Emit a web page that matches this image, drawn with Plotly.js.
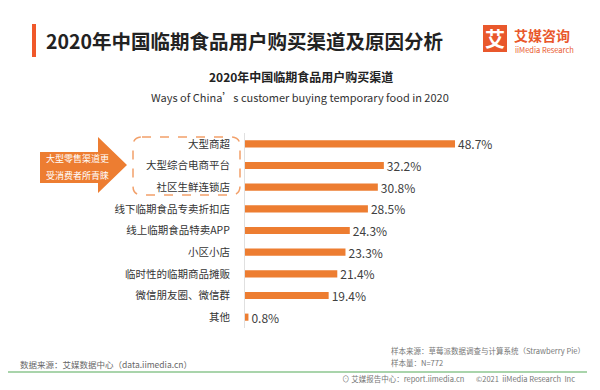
<!DOCTYPE html>
<html>
<head>
<meta charset="utf-8">
<script src="https://cdn.plot.ly/plotly-3.0.1.min.js"></script>
<style>html,body{margin:0;padding:0;background:#fff;}</style>
</head>
<body>
<div id="chart" style="width:600px;height:390px;"></div>
<script>
const categories = ["大型商超","大型综合电商平台","社区生鲜连锁店","线下临期食品专卖折扣店","线上临期食品特卖APP","小区小店","临时性的临期商品摊贩","微信朋友圈、微信群","其他"];
const values = [48.7, 32.2, 30.8, 28.5, 24.3, 23.3, 21.4, 19.4, 0.8];

const W = 600, H = 390;
const M = {l: 245, r: 10, t: 133, b: 62};
const PW = W - M.l - M.r, PH = H - M.t - M.b;
const px = x => (x - M.l) / PW;
const py = y => (H - M.b - y) / PH;
const FONT = "'Noto Sans CJK SC', 'Noto Sans', sans-serif";
const ORANGE = '#ed7d31';

function pathFrom(pts) {
  return 'M ' + pts.map(p => px(p[0]) + ',' + py(p[1])).join(' L ') + ' Z';
}
function roundRect(x0, y0, x1, y1, r) {
  const P = (x, y) => px(x) + ',' + py(y);
  return 'M ' + P(x0 + r, y0) + ' L ' + P(x1 - r, y0) + ' Q ' + P(x1, y0) + ' ' + P(x1, y0 + r) +
    ' L ' + P(x1, y1 - r) + ' Q ' + P(x1, y1) + ' ' + P(x1 - r, y1) +
    ' L ' + P(x0 + r, y1) + ' Q ' + P(x0, y1) + ' ' + P(x0, y1 - r) +
    ' L ' + P(x0, y0 + r) + ' Q ' + P(x0, y0) + ' ' + P(x0 + r, y0) + ' Z';
}

const trace = {
  type: 'bar',
  orientation: 'h',
  y: categories,
  x: values,
  marker: {color: ORANGE},
  text: values.map(v => v.toFixed(1) + '%'),
  textposition: 'outside',
  constraintext: 'none',
  textfont: {family: FONT, size: 12, color: '#404040'},
  cliponaxis: false,
  hoverinfo: 'none'
};

function ann(x, y, text, size, color, anchor, extra) {
  return Object.assign({
    xref: 'paper', yref: 'paper', x: px(x), y: py(y), text: text, showarrow: false,
    xanchor: anchor || 'left', yanchor: 'middle',
    font: {family: FONT, size: size, color: color}
  }, extra || {});
}

const layout = {
  width: W, height: H,
  margin: M,
  paper_bgcolor: '#fff', plot_bgcolor: '#fff',
  showlegend: false,
  bargap: 0.67,
  xaxis: {range: [0, 80], visible: false, fixedrange: true},
  yaxis: {
    autorange: 'reversed', showgrid: false, zeroline: false,
    showline: true, linecolor: '#e0e0e0', linewidth: 1,
    ticks: '', ticklabelstandoff: 12,
    tickfont: {family: FONT, size: 10.5, color: '#333'}
  },
  shapes: [
    {type: 'rect', xref: 'paper', yref: 'paper', x0: px(32), x1: px(36), y0: py(57), y1: py(24), fillcolor: '#f0582a', line: {width: 0}},
    {type: 'rect', xref: 'paper', yref: 'paper', x0: px(483), x1: px(507), y0: py(52), y1: py(25), fillcolor: '#e9582c', line: {width: 0}},
    {type: 'path', xref: 'paper', yref: 'paper', path: pathFrom([[40,152],[98,152],[98,137],[127,165],[98,193],[98,183],[40,183]]), fillcolor: ORANGE, line: {width: 0}},
    {type: 'path', xref: 'paper', yref: 'paper', path: roundRect(133, 137, 240, 195, 9), fillcolor: 'rgba(0,0,0,0)', line: {color: '#f2a06a', width: 1.5, dash: 'dash'}},
    {type: 'line', xref: 'paper', yref: 'paper', x0: px(8), x1: px(587), y0: py(372), y1: py(372), line: {color: '#8cc68f', width: 1.5}}
  ],
  annotations: [
    ann(44, 41, '<b>2020年中国临期食品用户购买渠道及原因分析</b>', 19.5, '#222'),
    ann(495, 39, '<b>艾</b>', 20, '#fff', 'center'),
    ann(512, 35, '<b>艾媒咨询</b>', 14, '#e9582c'),
    ann(513, 49, 'iiMedia Research', 7.5, '#e9582c'),
    ann(301, 77, '<b>2020年中国临期食品用户购买渠道</b>', 12, '#222', 'center'),
    ann(300, 97, 'Ways of China’s customer buying temporary food in 2020', 11, '#333', 'center'),
    ann(77, 158, '大型零售渠道更', 9, '#fff', 'center'),
    ann(77, 175, '受消费者所青睐', 9, '#fff', 'center'),
    ann(18, 364, '数据来源：艾媒数据中心（data.iimedia.cn）', 8.5, '#666'),
    ann(389, 350, '样本来源：草莓派数据调查与计算系统（Strawberry Pie）', 7.5, '#777'),
    ann(389, 362, '样本量：N=772', 7.5, '#777'),
    ann(340, 378, '⊙ 艾媒报告中心：report.iimedia.cn', 7.5, '#777'),
    ann(474, 378, '©2021  iiMedia Research  Inc', 7.5, '#777')
  ]
};

Plotly.newPlot('chart', [trace], layout, {staticPlot: true, displayModeBar: false});
</script>
</body>
</html>
